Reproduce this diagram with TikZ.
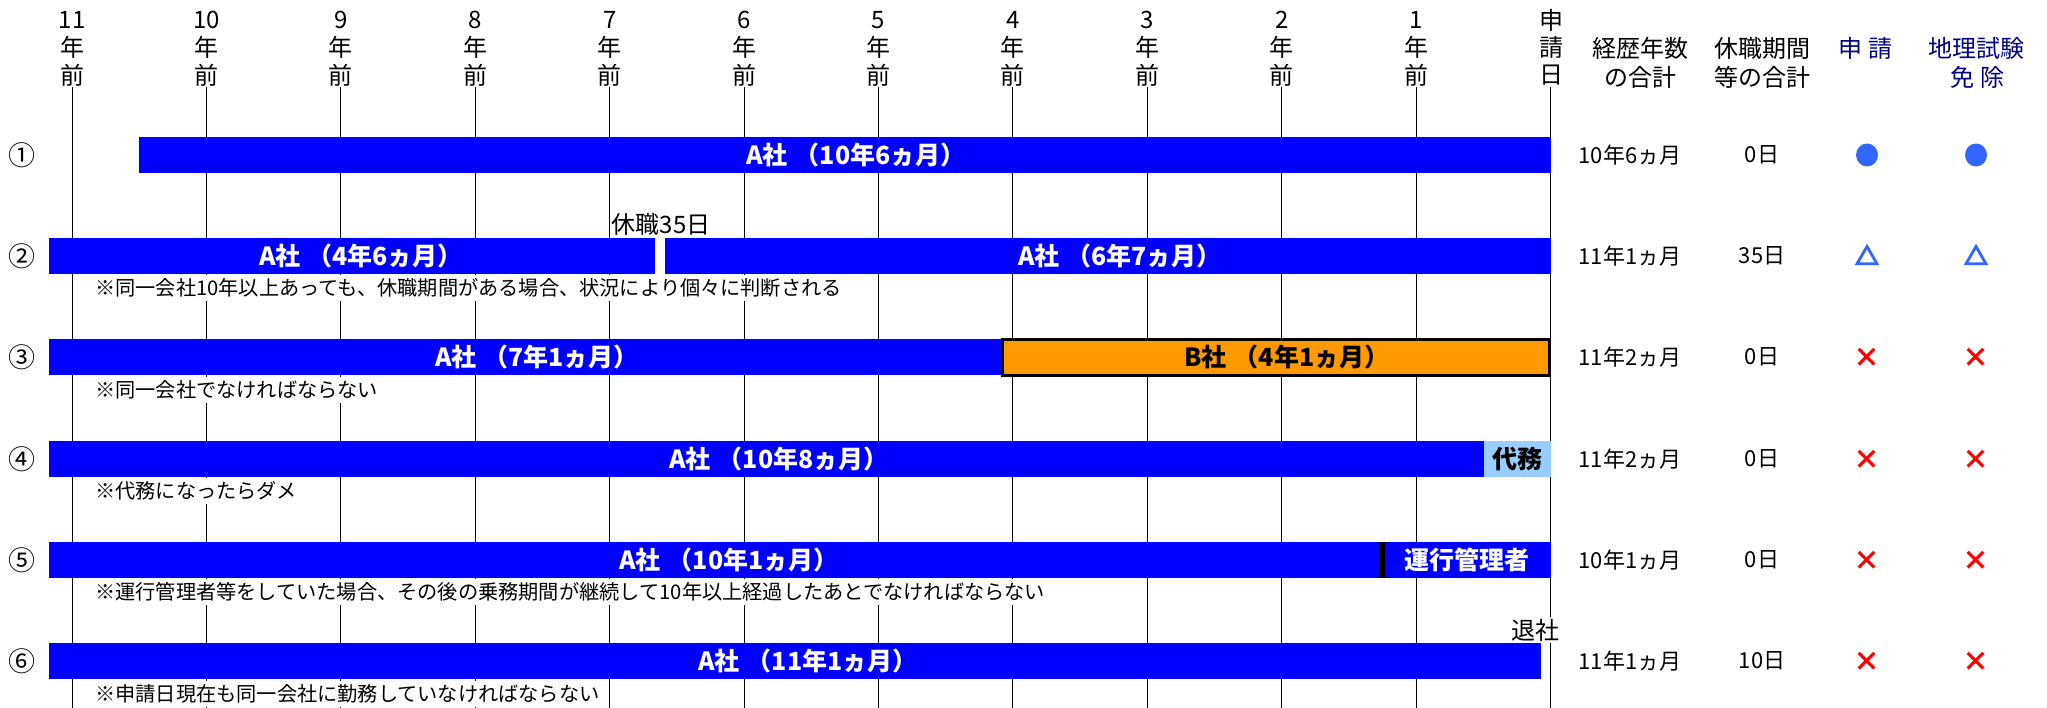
\documentclass[tikz,border=0pt]{standalone}
\usepackage{fontspec}
\setmainfont{Noto Sans CJK JP}
\usetikzlibrary{shapes.geometric}
\definecolor{barblue}{RGB}{0,0,255}
\definecolor{barorange}{RGB}{255,153,0}
\definecolor{lightbar}{RGB}{153,204,255}
\definecolor{markblue}{RGB}{51,102,255}
\definecolor{hdrnavy}{RGB}{0,0,128}
\definecolor{markred}{RGB}{255,0,0}
\newcommand{\fsz}[1]{\fontsize{#1}{#1}\selectfont}
\newcommand{\gap}{\hspace{7pt}}
\begin{document}
\begin{tikzpicture}[x=1pt,y=-1pt,
  gridline/.style={line width=1pt},
  hdr/.style={font={\fsz{24}}, inner sep=0pt},
  hdrblue/.style={font={\fsz{24}}, inner sep=0pt, text=hdrnavy},
  barlabel/.style={font={\fsz{25}\bfseries}, text=white, inner sep=0pt},
  note/.style={font={\fsz{20.2}}, fill=white, anchor=west, inner xsep=3pt, inner ysep=4pt},
  num/.style={font={\fsz{27}}, inner sep=0pt},
  val/.style={font={\fsz{22}}, inner sep=0pt},
  okmark/.style={ellipse, fill=markblue, minimum width=22pt, minimum height=23pt, inner sep=0pt},
  trimark/.style={regular polygon, regular polygon sides=3, draw=markblue, line width=2.8pt, minimum size=23pt, inner sep=0pt},
  ngmark/.style={font={\fsz{27}\bfseries}, text=markred, inner sep=0pt},
  whitelabel/.style={font={\fsz{24}}, fill=white, inner xsep=1pt, inner ysep=2pt},
]
\path[use as bounding box] (0,0) rectangle (2047,708);

% grid lines and year headers
\foreach \k in {1,...,11}{
  \draw[gridline] ({1550.5-134.4*\k},87) -- ({1550.5-134.4*\k},708);
  \node[hdr] (yn\k) at ({1550.5-134.4*\k},20) {\k};
  \node[hdr] (yy\k) at ({1550.5-134.4*\k},47.5) {年};
  \node[hdr] (yz\k) at ({1550.5-134.4*\k},75) {前};
}
\draw[line width=1.8pt] (1550.5,87) -- (1550.5,708);
\node[hdr] (ap1) at (1551,20) {申};
\node[hdr] (ap2) at (1551,47.5) {請};
\node[hdr] (ap3) at (1551,75) {日};

% right headers
\node[hdr] (h1a) at (1640,48.7) {経歴年数};
\node[hdr] (h1b) at (1640,77) {の合計};
\node[hdr] (h2a) at (1762,48.7) {休職期間};
\node[hdr] (h2b) at (1762,77) {等の合計};
\node[hdrblue] (h3a) at (1865,48.7) {申\hspace{6pt}請};
\node[hdrblue] (h4a) at (1976,48.7) {地理試験};
\node[hdrblue] (h4b) at (1977,77) {免\hspace{6pt}除};

% row numbers
\node[num] (r1) at (22,155) {①};
\node[num] (r2) at (22,256) {②};
\node[num] (r3) at (22,357) {③};
\node[num] (r4) at (22,459) {④};
\node[num] (r5) at (22,560) {⑤};
\node[num] (r6) at (22,661) {⑥};

% row 1
\fill[barblue] (139,137) rectangle (1550.5,173);
\node[barlabel] (b1) at (856,155) {A社\gap（10年6ヵ月）};

% row 2
\fill[barblue] (49,238) rectangle (655,274);
\fill[barblue] (665,238) rectangle (1550.5,274);
\node[barlabel] (b2a) at (361,256) {A社\gap（4年6ヵ月）};
\node[barlabel] (b2b) at (1120,256) {A社\gap（6年7ヵ月）};
\node[whitelabel] (kyu) at (661,224) {休職35日};
\node[note] (n2) at (92,288) {※同一会社10年以上あっても、休職期間がある場合、状況により個々に判断される};

% row 3
\fill[barblue] (49,339) rectangle (1002,375);
\filldraw[fill=barorange, draw=black, line width=3pt] (1002.5,339.5) rectangle (1549,375.5);
\node[barlabel] (b3a) at (537,357) {A社\gap（7年1ヵ月）};
\node[barlabel, text=black] (b3b) at (1287,357) {B社\gap（4年1ヵ月）};
\node[note] (n3) at (92,390) {※同一会社でなければならない};

% row 4
\fill[barblue] (49,441) rectangle (1484,477);
\fill[lightbar] (1484,441) rectangle (1550.5,477);
\node[barlabel] (b4a) at (779,459) {A社\gap（10年8ヵ月）};
\node[barlabel, text=black] (b4b) at (1517,459) {代務};
\node[note] (n4) at (92,491) {※代務になったらダメ};

% row 5
\fill[barblue] (49,542) rectangle (1550.5,578);
\fill[black] (1380,542) rectangle (1384.5,578);
\node[barlabel] (b5a) at (729,560) {A社\gap（10年1ヵ月）};
\node[barlabel] (b5b) at (1467,560) {運行管理者};
\node[note] (n5) at (92,592) {※運行管理者等をしていた場合、その後の乗務期間が継続して10年以上経過したあとでなければならない};

% row 6
\fill[barblue] (49,643) rectangle (1541,679);
\node[barlabel] (b6a) at (808,661) {A社\gap（11年1ヵ月）};
\node[whitelabel] (taisha) at (1535,630) {退社};
\node[note] (n6) at (92,694) {※申請日現在も同一会社に勤務していなければならない};

% right values
\node[val] (v1a) at (1630,155) {10年6ヵ月};
\node[val] (v1b) at (1762,155) {0日};
\node[okmark] (v1c) at (1867,155) {};
\node[okmark] (v1d) at (1976,155) {};

\node[val] (v2a) at (1630,256) {11年1ヵ月};
\node[val] (v2b) at (1762,256) {35日};
\node[trimark] (v2c) at (1867,258) {};
\node[trimark] (v2d) at (1976,258) {};

\node[val] (v3a) at (1630,357) {11年2ヵ月};
\node[val] (v3b) at (1762,357) {0日};
\node[ngmark] (v3c) at (1867,358) {×};
\node[ngmark] (v3d) at (1976,358) {×};

\node[val] (v4a) at (1630,459) {11年2ヵ月};
\node[val] (v4b) at (1762,459) {0日};
\node[ngmark] (v4c) at (1867,460) {×};
\node[ngmark] (v4d) at (1976,460) {×};

\node[val] (v5a) at (1630,560) {10年1ヵ月};
\node[val] (v5b) at (1762,560) {0日};
\node[ngmark] (v5c) at (1867,561) {×};
\node[ngmark] (v5d) at (1976,561) {×};

\node[val] (v6a) at (1630,661) {11年1ヵ月};
\node[val] (v6b) at (1762,661) {10日};
\node[ngmark] (v6c) at (1867,662) {×};
\node[ngmark] (v6d) at (1976,662) {×};
\end{tikzpicture}
\end{document}
